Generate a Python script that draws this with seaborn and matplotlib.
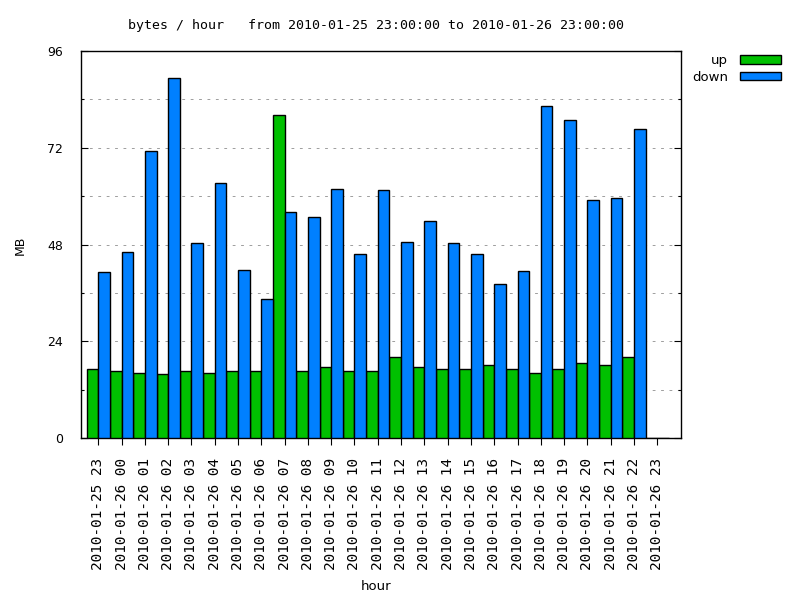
import matplotlib
matplotlib.use("Agg")
import matplotlib.pyplot as plt
from matplotlib.ticker import MultipleLocator
import pandas as pd
import seaborn as sns

# hourly traffic, MB
hours = [
    "2010-01-25 23", "2010-01-26 00", "2010-01-26 01", "2010-01-26 02",
    "2010-01-26 03", "2010-01-26 04", "2010-01-26 05", "2010-01-26 06",
    "2010-01-26 07", "2010-01-26 08", "2010-01-26 09", "2010-01-26 10",
    "2010-01-26 11", "2010-01-26 12", "2010-01-26 13", "2010-01-26 14",
    "2010-01-26 15", "2010-01-26 16", "2010-01-26 17", "2010-01-26 18",
    "2010-01-26 19", "2010-01-26 20", "2010-01-26 21", "2010-01-26 22",
    "2010-01-26 23",
]
up = [17.0, 16.5, 16.2, 16.0, 16.7, 16.2, 16.5, 16.5, 80.1, 16.5, 17.7, 16.7,
      16.5, 20.0, 17.7, 17.2, 17.2, 18.0, 17.0, 16.2, 17.0, 18.5, 18.0, 20.0, 0]
down = [41.2, 46.2, 71.2, 89.2, 48.4, 63.3, 41.7, 34.6, 56.1, 54.8, 61.8, 45.7,
        61.5, 48.7, 53.9, 48.4, 45.7, 38.3, 41.5, 82.3, 78.8, 59.1, 59.5, 76.6, 0]

df = pd.DataFrame({
    "hour": hours + hours,
    "dir": ["up"] * len(up) + ["down"] * len(down),
    "MB": up + down,
})

fig = plt.figure(figsize=(8, 6), dpi=100)
ax = fig.add_axes([81 / 800, 162 / 600, 600 / 800, 387 / 600])

sns.barplot(data=df, x="hour", y="MB", hue="dir", order=hours,
            hue_order=["up", "down"],
            palette={"up": "#00c000", "down": "#0080ff"},
            width=1.0, saturation=1, errorbar=None,
            edgecolor="black", linewidth=1, zorder=3, ax=ax)

ax.set_xlim(-0.743, 25.02)
ax.set_ylim(0, 96)
ax.yaxis.set_major_locator(MultipleLocator(24))
ax.yaxis.set_minor_locator(MultipleLocator(12))
ax.grid(axis="y", which="both", color="#a0a0a0",
        linestyle=(0, (2.8, 5.6)), linewidth=0.72)
ax.set_axisbelow(True)

ax.tick_params(axis="y", which="major", direction="in", length=5, width=0.8,
               right=True, labelsize=9, pad=13)
ax.tick_params(axis="y", which="minor", direction="in", length=2.5, width=0.8,
               right=True)
ax.tick_params(axis="x", direction="out", length=5, width=0.8,
               labelrotation=90, labelsize=10.4, pad=9.4)
for lbl in ax.get_xticklabels():
    lbl.set_fontfamily("DejaVu Sans Mono")
for s in ax.spines.values():
    s.set_linewidth(1)
    s.set_color("black")

ax.set_xlabel("")
ax.set_ylabel("")
fig.text(20 / 800, 1 - 245 / 600, "MB", rotation=90, ha="center", va="center",
         fontsize=9)
fig.text(376 / 800, 1 - 587 / 600, "hour", ha="center", va="center",
         fontsize=9.5)
fig.text(375.5 / 800, 1 - 25 / 600,
         "bytes / hour   from 2010-01-25 23:00:00 to 2010-01-26 23:00:00",
         ha="center", va="center", family="DejaVu Sans Mono", fontsize=9.5)

handles, labels = ax.get_legend_handles_labels()
ax.legend(handles, labels, loc="upper right",
          bbox_to_anchor=(781 / 800, 1 - 54 / 600),
          bbox_transform=fig.transFigure, frameon=False, markerfirst=False,
          handlelength=3.1, handleheight=0.6, handletextpad=0.9,
          labelspacing=0.3, borderpad=0, borderaxespad=0, fontsize=9.5)

fig.savefig("out.png", dpi=100)
